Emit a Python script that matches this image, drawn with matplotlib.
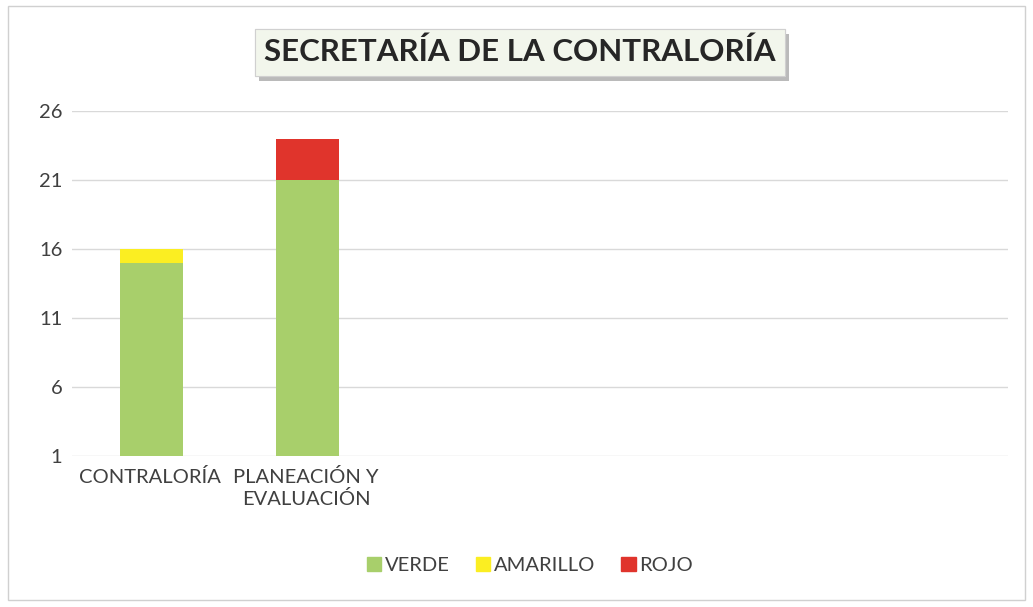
import matplotlib
matplotlib.use("Agg")
import matplotlib.pyplot as plt
import matplotlib.patheffects as pe
from matplotlib.patches import Rectangle, Patch
import numpy as np

categories = ["CONTRALORÍA", "PLANEACIÓN Y\nEVALUACIÓN", "", "", "", ""]
verde = [15, 21, 0, 0, 0, 0]
amarillo = [1, 0, 0, 0, 0, 0]
rojo = [0, 3, 0, 0, 0, 0]
yticks = [1, 6, 11, 16, 21, 26]
title = "SECRETARÍA DE LA CONTRALORÍA"

c_verde = "#a8cf6b"
c_amarillo = "#fbee22"
c_rojo = "#e0342c"

plt.rcParams['font.family'] = ['Lato', 'DejaVu Sans']

fig = plt.figure(figsize=(10.33, 6.07), dpi=100)
ax = fig.add_axes([0.0697, 0.2488, 0.906, 0.5683])

x = np.arange(len(categories))
base = 1
v = np.array(verde, dtype=float)
a = np.array(amarillo, dtype=float)
r = np.array(rojo, dtype=float)
mask = v > 0
w = 0.4
ax.bar(x[mask] + 0.01, v[mask] - base, bottom=base, width=w, color=c_verde, label="VERDE")
ax.bar(x + 0.01, a, bottom=v, width=w, color=c_amarillo, label="AMARILLO")
ax.bar(x + 0.01, r, bottom=v + a, width=w, color=c_rojo, label="ROJO")

ax.set_xlim(-0.5, len(categories) - 0.5)
ax.set_ylim(1, 26)
ax.set_yticks(yticks)
ax.set_xticks(x)
ax.set_xticklabels(categories, fontsize=14.5, color="#404040", linespacing=1.25)
ax.tick_params(axis='y', labelsize=14.5, colors="#404040", length=0, pad=7)
ax.tick_params(axis='x', length=0, pad=9)
ax.grid(axis='y', color="#d9d9d9", linewidth=1)
ax.set_axisbelow(True)
for s in ax.spines.values():
    s.set_visible(False)

t = fig.text(0.5035, 0.914, title, ha='center', va='center', fontsize=22.5,
             fontweight='bold', color="#262626",
             bbox=dict(boxstyle='square,pad=0.3', facecolor="#f2f6ec",
                       edgecolor="#d0d0d0", linewidth=0.8))
t.get_bbox_patch().set_path_effects([
    pe.withSimplePatchShadow(offset=(3, -4), shadow_rgbFace="#777777", alpha=0.5),
    pe.Normal()])

handles = [Patch(color=c_verde), Patch(color=c_amarillo), Patch(color=c_rojo)]
fig.legend(handles, ["VERDE", "AMARILLO", "ROJO"], loc='center',
           bbox_to_anchor=(0.513, 0.069), ncol=3, frameon=False,
           fontsize=14.5, handlelength=0.7, handleheight=0.7, handletextpad=0.2,
           columnspacing=1.3, labelcolor="#404040")

fig.patches.append(Rectangle((0.008, 0.012), 0.984, 0.978, transform=fig.transFigure,
                             fill=False, edgecolor="#d0d0d0", linewidth=1))

fig.savefig("out.png", dpi=100)
